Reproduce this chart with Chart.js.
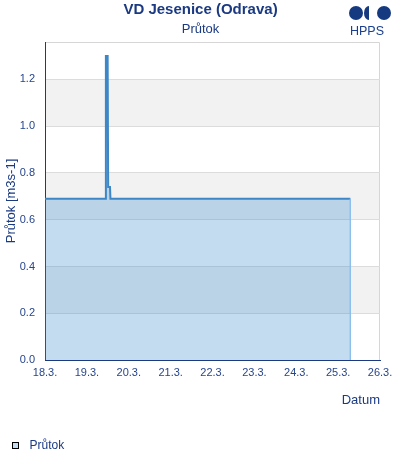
<!DOCTYPE html>
<html>
<head>
<meta charset="utf-8">
<script src="https://cdn.jsdelivr.net/npm/chart.js@4/dist/chart.umd.min.js"></script>
<style>
html,body{margin:0;padding:0;background:#fff;}
#wrap{width:400px;height:460px;}
</style>
</head>
<body>
<div id="wrap"><canvas id="c" width="400" height="460"></canvas></div>
<script>
// ---- data ----
const chartTitle = 'VD Jesenice (Odrava)';
const chartSubtitle = 'Průtok';
const seriesName = 'Průtok';
const yAxisTitle = 'Průtok [m3s-1]';
const xAxisTitle = 'Datum';
const xTickLabels = ['18.3.', '19.3.', '20.3.', '21.3.', '22.3.', '23.3.', '24.3.', '25.3.', '26.3.'];
// hours since 18.3. 00:00
const timeHours = [0, 34.6, 34.9, 35.9, 36.2, 37.25, 37.5, 175, 175];
const flowValues = [0.69, 0.69, 1.30, 1.30, 0.74, 0.74, 0.69, 0.69, 0];
const yMin = 0, yMax = 1.36, yStep = 0.2;
const xMin = 0, xMax = 192, xStep = 24;

const FONT = "'Liberation Sans', Arial, sans-serif";
const NAVY = '#1b3a82';
const TICK = '#27458c';

const points = timeHours.map((t, i) => ({x: t, y: flowValues[i]}));
const lastIdx = points.length - 1;

const decor = {
  id: 'decor',
  beforeDraw(chart) {
    const {ctx, chartArea: a, scales: {y}} = chart;
    ctx.save();
    // alternating bands
    const ticks = y.ticks.map(t => t.value);
    ctx.fillStyle = '#f2f2f2';
    for (let i = 1; i < ticks.length - 1; i += 2) {
      const top = Math.round(y.getPixelForValue(ticks[i + 1]));
      const bot = Math.round(y.getPixelForValue(ticks[i]));
      ctx.fillRect(a.left, top, a.right - a.left, bot - top);
    }
    // top and right border
    ctx.strokeStyle = '#d6d6d6';
    ctx.lineWidth = 1;
    ctx.beginPath();
    ctx.moveTo(a.left, Math.round(a.top) + 0.5);
    ctx.lineTo(Math.round(a.right) - 0.5, Math.round(a.top) + 0.5);
    ctx.lineTo(Math.round(a.right) - 0.5, a.bottom);
    ctx.stroke();
    ctx.restore();
  },
  afterDraw(chart) {
    const {ctx} = chart;
    ctx.save();
    // title & subtitle
    ctx.fillStyle = NAVY;
    ctx.textAlign = 'center';
    ctx.textBaseline = 'middle';
    ctx.font = 'bold 15px ' + FONT;
    ctx.fillText(chartTitle, 200.5, 10);
    ctx.font = '13px ' + FONT;
    ctx.fillText(chartSubtitle, 200.5, 29);
    // logo
    ctx.fillStyle = '#163a80';
    ctx.beginPath(); ctx.arc(356, 13, 7, 0, Math.PI * 2); ctx.fill();
    ctx.beginPath(); ctx.ellipse(369, 13, 5, 7, 0, Math.PI / 2, Math.PI * 1.5); ctx.closePath(); ctx.fill();
    ctx.beginPath(); ctx.arc(384, 13, 7, 0, Math.PI * 2); ctx.fill();
    ctx.font = '12.5px ' + FONT;
    ctx.fillStyle = '#1b3f8f';
    ctx.fillText('HPPS', 367, 32);
    // legend
    ctx.fillStyle = '#c5dcf0';
    ctx.fillRect(12, 442, 7, 7);
    ctx.strokeStyle = '#000';
    ctx.lineWidth = 1;
    ctx.strokeRect(12.5, 442.5, 6, 6);
    ctx.fillStyle = NAVY;
    ctx.textAlign = 'left';
    ctx.font = '12px ' + FONT;
    ctx.fillText(seriesName, 29.5, 445.5);
    ctx.restore();
  }
};

new Chart(document.getElementById('c'), {
  type: 'line',
  data: {
    datasets: [{
      label: seriesName,
      data: points,
      borderColor: '#3d87c7',
      borderWidth: 2,
      backgroundColor: 'rgba(61,138,205,0.30)',
      fill: 'origin',
      tension: 0,
      pointRadius: 0,
      segment: {
        borderColor: c => c.p1DataIndex === lastIdx ? 'rgba(140,190,235,0.9)' : undefined,
        borderWidth: c => c.p1DataIndex === lastIdx ? 1 : undefined
      }
    }]
  },
  options: {
    responsive: false,
    animation: false,
    devicePixelRatio: 1,
    layout: {padding: {top: 42, right: 20, bottom: 52, left: 0}},
    plugins: {legend: {display: false}, title: {display: false}, tooltip: {enabled: false}},
    scales: {
      x: {
        type: 'linear',
        min: xMin, max: xMax,
        afterFit: s => { s.height = 48; },
        grid: {display: false, drawTicks: false},
        border: {display: true, color: '#1b3a82', width: 1},
        ticks: {
          stepSize: xStep,
          padding: 6,
          color: TICK,
          font: {family: FONT, size: 11},
          maxRotation: 0,
          autoSkip: false,
          callback: (v) => xTickLabels[Math.round((v - xMin) / xStep)]
        },
        title: {display: true, text: xAxisTitle, align: 'end', color: NAVY, padding: 0, font: {family: FONT, size: 13}}
      },
      y: {
        min: yMin, max: yMax,
        afterFit: s => { s.width = 45; },
        grid: {color: '#dcdcdc', drawTicks: false},
        border: {display: true, color: '#1b3a82', width: 1},
        ticks: {
          stepSize: yStep,
          includeBounds: false,
          padding: 10,
          color: TICK,
          font: {family: FONT, size: 11},
          callback: v => v.toFixed(1)
        },
        title: {display: true, text: yAxisTitle, color: NAVY, padding: 4, font: {family: FONT, size: 13}}
      }
    }
  },
  plugins: [decor]
});
</script>
</body>
</html>
